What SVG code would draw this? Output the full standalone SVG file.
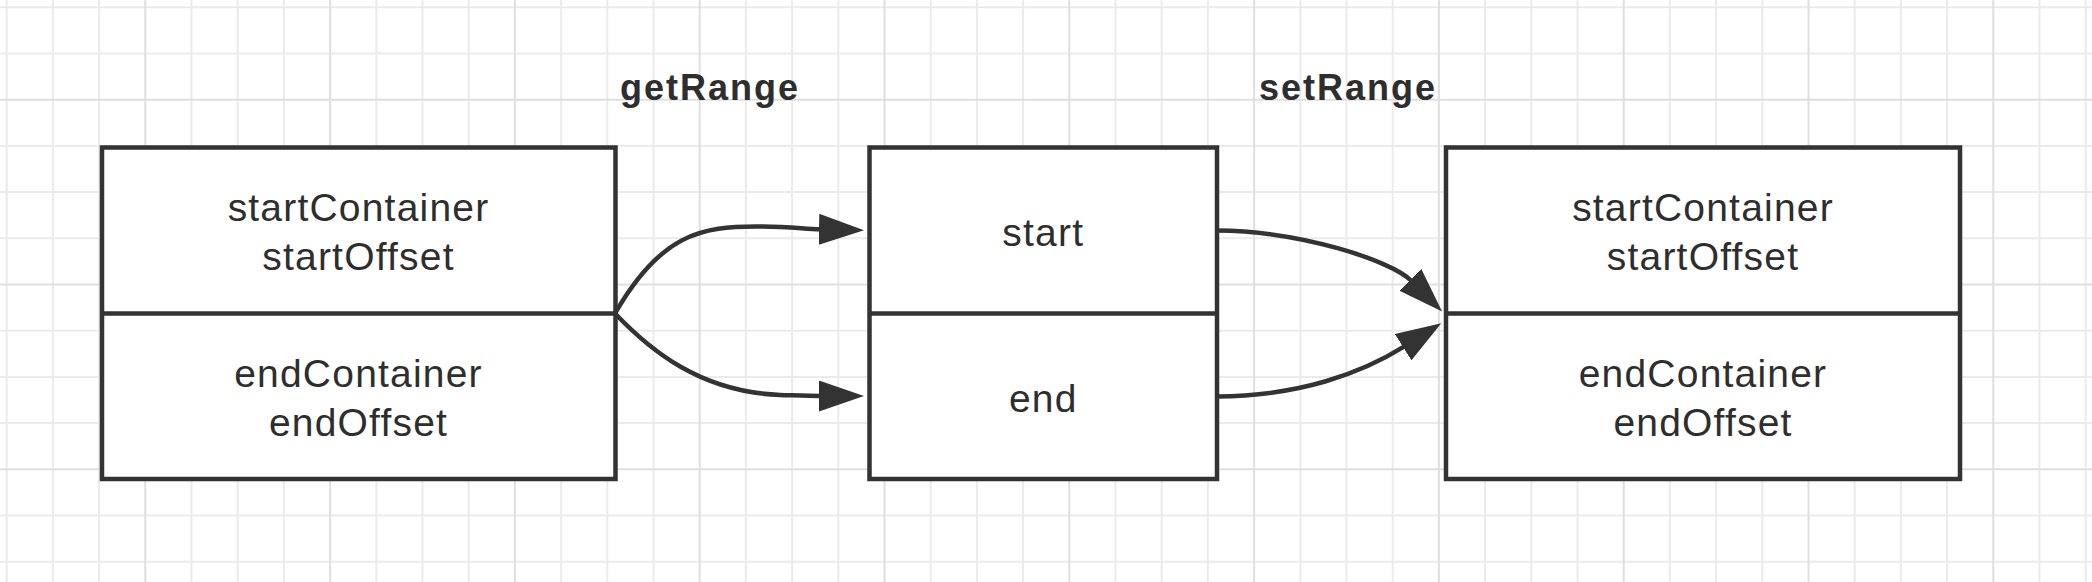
<svg xmlns="http://www.w3.org/2000/svg" width="2092" height="582" viewBox="0 0 2092 582">
  <style>
    .grid-minor { stroke: #ebebeb; stroke-width: 2; fill: none; }
    .grid-major { stroke: #dfdfdf; stroke-width: 2; fill: none; }
    .box { fill: #ffffff; stroke: #333333; stroke-width: 4.5; }
    .divider { stroke: #333333; stroke-width: 4.5; }
    .txt { font-family: "Liberation Sans", Arial, Helvetica, sans-serif; font-size: 39px; fill: #2e2e2e; text-anchor: middle; letter-spacing: 1.2px; }
    .lbl { font-family: "Liberation Sans", Arial, Helvetica, sans-serif; font-size: 36px; font-weight: bold; fill: #2e2e2e; letter-spacing: 2px; }
    .edge { fill: none; stroke: #333333; stroke-width: 4.5; }
  </style>
  <defs>
    <marker id="arrow" markerUnits="userSpaceOnUse" markerWidth="46" markerHeight="31" refX="1" refY="15.5" orient="auto">
      <path d="M0,0 L45,15.5 L0,31 Z" fill="#333333"/>
    </marker>
  </defs>
  <rect x="0" y="0" width="2092" height="582" fill="#ffffff"/>
  <g id="grid">
    <path class="grid-minor" d="M6.7 0V582M52.9 0V582M99.1 0V582M191.5 0V582M237.7 0V582M283.9 0V582M376.3 0V582M422.5 0V582M468.7 0V582M561.1 0V582M607.3 0V582M653.5 0V582M745.9 0V582M792.1 0V582M838.3 0V582M930.7 0V582M976.9 0V582M1023.1 0V582M1115.5 0V582M1161.7 0V582M1207.9 0V582M1300.3 0V582M1346.5 0V582M1392.7 0V582M1485.1 0V582M1531.3 0V582M1577.5 0V582M1669.9 0V582M1716.1 0V582M1762.3 0V582M1854.7 0V582M1900.9 0V582M1947.1 0V582M2039.5 0V582M2085.7 0V582M0 7.3H2092M0 53.5H2092M0 145.9H2092M0 192.1H2092M0 238.3H2092M0 330.7H2092M0 376.9H2092M0 423.1H2092M0 515.5H2092M0 561.7H2092"/>
    <path class="grid-major" d="M145.3 0V582M330.1 0V582M514.9 0V582M699.7 0V582M884.5 0V582M1069.3 0V582M1254.1 0V582M1438.9 0V582M1623.7 0V582M1808.5 0V582M1993.3 0V582M0 99.7H2092M0 284.5H2092M0 469.3H2092"/>
  </g>
  <g id="label-getRange">
    <text class="lbl" x="620" y="99.5">getRange</text>
  </g>
  <g id="label-setRange">
    <text class="lbl" x="1259" y="99.5">setRange</text>
  </g>
  <g id="node-source">
    <rect class="box" x="102" y="147.5" width="513.5" height="331.5"/>
    <line class="divider" x1="102" y1="313.5" x2="615.5" y2="313.5"/>
    <text class="txt" x="358.5" y="221">startContainer</text>
    <text class="txt" x="358.5" y="269.5">startOffset</text>
    <text class="txt" x="358.5" y="387">endContainer</text>
    <text class="txt" x="358.5" y="435.5">endOffset</text>
  </g>
  <g id="node-range">
    <rect class="box" x="869.5" y="147.5" width="347.5" height="331.5"/>
    <line class="divider" x1="869.5" y1="313.5" x2="1217" y2="313.5"/>
    <text class="txt" x="1043.3" y="246">start</text>
    <text class="txt" x="1043.3" y="411.5">end</text>
  </g>
  <g id="node-target">
    <rect class="box" x="1446" y="147.5" width="514" height="331.5"/>
    <line class="divider" x1="1446" y1="313.5" x2="1960" y2="313.5"/>
    <text class="txt" x="1703" y="221">startContainer</text>
    <text class="txt" x="1703" y="269.5">startOffset</text>
    <text class="txt" x="1703" y="387">endContainer</text>
    <text class="txt" x="1703" y="435.5">endOffset</text>
  </g>
  <g id="connectors">
    <path class="edge" marker-end="url(#arrow)" d="M615,313.5 C660,235 700,226 760,226.5 C790,226.8 805,229 820,229.3"/>
    <path class="edge" marker-end="url(#arrow)" d="M615,313.5 C650,350 700,392 780,395 C800,395.6 810,396 820,396"/>
    <path class="edge" marker-end="url(#arrow)" d="M1217,230.5 C1300,231 1391,260.5 1411,280.5"/>
    <path class="edge" marker-end="url(#arrow)" d="M1217,396.5 C1300,396 1362,373 1404,346.7"/>
  </g>
</svg>
